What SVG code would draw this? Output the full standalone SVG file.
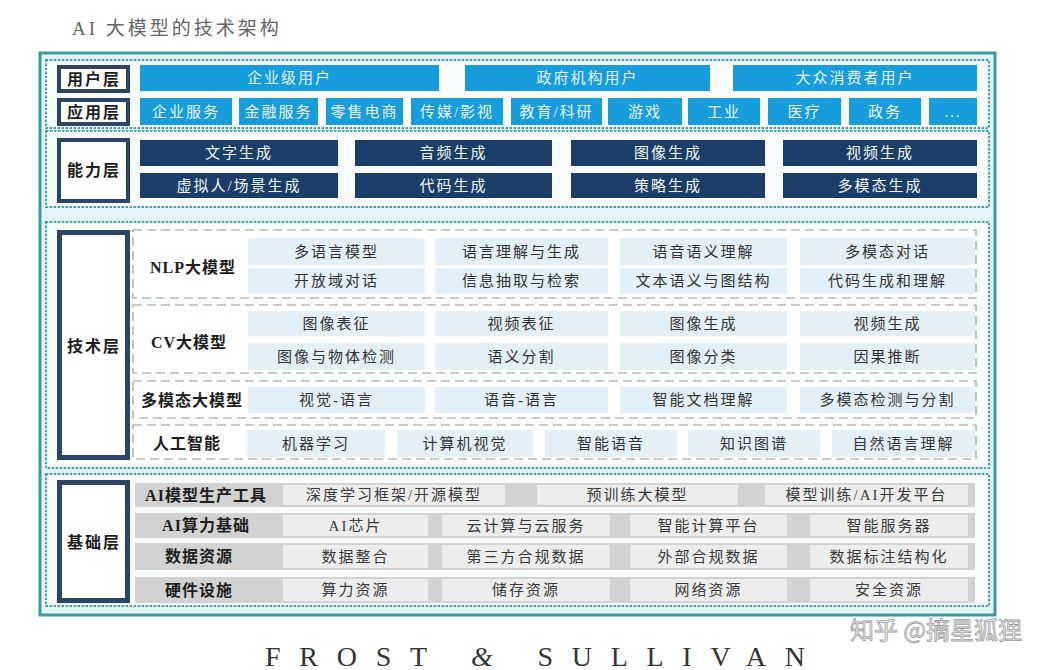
<svg xmlns="http://www.w3.org/2000/svg" width="1054" height="670" viewBox="0 0 1054 670">
<style>
text{font-family:"Liberation Serif","Noto Sans CJK SC",serif;text-anchor:middle;dominant-baseline:central}
.sec{fill:#f8fcfd;stroke:#45a2aa;stroke-width:2;stroke-dasharray:2.5 1.5}
.lab{fill:#ffffff;stroke:#2c4566;stroke-width:4}
.labT{font-size:16px;font-weight:bold;fill:#1e1e1e;letter-spacing:2px}
.blue{fill:#179ddc}
.blueT{font-size:15px;fill:#e9f5fc;letter-spacing:2px}
.navy{fill:#1b3e69}
.navyT{font-size:15px;fill:#f2f5f9;letter-spacing:2px}
.grp{fill:#ffffff;stroke:#9a9a9a;stroke-width:1.2;stroke-dasharray:9 5}
.cell{fill:#e4f0f7}
.cellT{font-size:15px;fill:#333333;letter-spacing:2px}
.subT{font-size:16px;font-weight:bold;fill:#1e1e1e;letter-spacing:1px}
.band{fill:#d2d2d2}
.gcell{fill:#ededed}
.gT{font-size:15px;fill:#3a3a3a;letter-spacing:2px}
</style>
<rect width="1054" height="670" fill="#ffffff"/>
<text x="72" y="28" style="text-anchor:start;font-size:19px;fill:#666666;letter-spacing:3px">AI 大模型的技术架构</text>
<rect x="40" y="53" width="955" height="562" fill="#e4f4f6" stroke="#3a9aa3" stroke-width="3"/>
<rect class="sec" x="46" y="60" width="943" height="68"/>
<rect class="sec" x="46" y="131" width="943" height="76"/>
<rect class="sec" x="46" y="222" width="943" height="246"/>
<rect class="sec" x="46" y="474" width="943" height="132"/>
<g id="connectors"/>
<g id="user-layer">
<rect class="lab" x="59" y="67" width="69" height="24"/><text class="labT" x="94" y="79">用户层</text>
<rect class="blue" x="140" y="65" width="299" height="26"/><text class="blueT" x="289.5" y="78">企业级用户</text>
<rect class="blue" x="465" y="65" width="245" height="26"/><text class="blueT" x="587.5" y="78">政府机构用户</text>
<rect class="blue" x="733" y="65" width="244" height="26"/><text class="blueT" x="855" y="78">大众消费者用户</text>
</g>
<g id="app-layer">
<rect class="lab" x="59" y="100" width="69" height="24"/><text class="labT" x="94" y="112">应用层</text>
<rect class="blue" x="140" y="98" width="92" height="27"/><text class="blueT" x="186" y="111.5">企业服务</text>
<rect class="blue" x="239" y="98" width="79" height="27"/><text class="blueT" x="278.5" y="111.5">金融服务</text>
<rect class="blue" x="326" y="98" width="77" height="27"/><text class="blueT" x="364.5" y="111.5">零售电商</text>
<rect class="blue" x="411" y="98" width="92" height="27"/><text class="blueT" x="457" y="111.5">传媒/影视</text>
<rect class="blue" x="511" y="98" width="91" height="27"/><text class="blueT" x="556.5" y="111.5">教育/科研</text>
<rect class="blue" x="608" y="98" width="74" height="27"/><text class="blueT" x="645" y="111.5">游戏</text>
<rect class="blue" x="688" y="98" width="72" height="27"/><text class="blueT" x="724" y="111.5">工业</text>
<rect class="blue" x="768" y="98" width="73" height="27"/><text class="blueT" x="804.5" y="111.5">医疗</text>
<rect class="blue" x="849" y="98" width="72" height="27"/><text class="blueT" x="885" y="111.5">政务</text>
<rect class="blue" x="929" y="98" width="48" height="27"/><text class="blueT" x="953" y="111.5">...</text>
</g>
<g id="capability-layer">
<rect class="lab" x="59" y="140" width="69" height="61"/><text class="labT" x="94" y="170.5">能力层</text>
<rect class="navy" x="140" y="140" width="198" height="26"/><text class="navyT" x="239" y="153">文字生成</text>
<rect class="navy" x="355" y="140" width="197" height="26"/><text class="navyT" x="453.5" y="153">音频生成</text>
<rect class="navy" x="571" y="140" width="194" height="26"/><text class="navyT" x="668" y="153">图像生成</text>
<rect class="navy" x="783" y="140" width="194" height="26"/><text class="navyT" x="880" y="153">视频生成</text>
<rect class="navy" x="140" y="173" width="198" height="25"/><text class="navyT" x="239" y="185.5">虚拟人/场景生成</text>
<rect class="navy" x="355" y="173" width="197" height="25"/><text class="navyT" x="453.5" y="185.5">代码生成</text>
<rect class="navy" x="571" y="173" width="194" height="25"/><text class="navyT" x="668" y="185.5">策略生成</text>
<rect class="navy" x="783" y="173" width="194" height="25"/><text class="navyT" x="880" y="185.5">多模态生成</text>
</g>
<g id="tech-layer">
<rect x="59.5" y="232.5" width="68" height="225" fill="#ffffff" stroke="#2c4566" stroke-width="5"/><text class="labT" x="94" y="346">技术层</text>
</g>
<g id="nlp">
<rect class="grp" x="133" y="230" width="843" height="68"/>
<text class="subT" x="193" y="267">NLP大模型</text>
<rect class="cell" x="248" y="238" width="177" height="27"/><text class="cellT" x="336.5" y="251.5">多语言模型</text>
<rect class="cell" x="435" y="238" width="173" height="27"/><text class="cellT" x="521.5" y="251.5">语言理解与生成</text>
<rect class="cell" x="620" y="238" width="167" height="27"/><text class="cellT" x="703.5" y="251.5">语音语义理解</text>
<rect class="cell" x="800" y="238" width="175" height="27"/><text class="cellT" x="887.5" y="251.5">多模态对话</text>
<rect class="cell" x="248" y="268" width="177" height="26"/><text class="cellT" x="336.5" y="281">开放域对话</text>
<rect class="cell" x="435" y="268" width="173" height="26"/><text class="cellT" x="521.5" y="281">信息抽取与检索</text>
<rect class="cell" x="620" y="268" width="167" height="26"/><text class="cellT" x="703.5" y="281">文本语义与图结构</text>
<rect class="cell" x="800" y="268" width="175" height="26"/><text class="cellT" x="887.5" y="281">代码生成和理解</text>
</g>
<g id="cv">
<rect class="grp" x="133" y="305" width="843" height="68"/>
<text class="subT" x="189" y="342">CV大模型</text>
<rect class="cell" x="248" y="311" width="177" height="25"/><text class="cellT" x="336.5" y="323.5">图像表征</text>
<rect class="cell" x="435" y="311" width="173" height="25"/><text class="cellT" x="521.5" y="323.5">视频表征</text>
<rect class="cell" x="620" y="311" width="167" height="25"/><text class="cellT" x="703.5" y="323.5">图像生成</text>
<rect class="cell" x="800" y="311" width="175" height="25"/><text class="cellT" x="887.5" y="323.5">视频生成</text>
<rect class="cell" x="248" y="343" width="177" height="27"/><text class="cellT" x="336.5" y="356.5">图像与物体检测</text>
<rect class="cell" x="435" y="343" width="173" height="27"/><text class="cellT" x="521.5" y="356.5">语义分割</text>
<rect class="cell" x="620" y="343" width="167" height="27"/><text class="cellT" x="703.5" y="356.5">图像分类</text>
<rect class="cell" x="800" y="343" width="175" height="27"/><text class="cellT" x="887.5" y="356.5">因果推断</text>
</g>
<g id="multimodal">
<rect class="grp" x="133" y="381" width="843" height="37"/>
<text class="subT" x="192" y="400">多模态大模型</text>
<rect class="cell" x="248" y="387" width="177" height="26"/><text class="cellT" x="336.5" y="400">视觉-语言</text>
<rect class="cell" x="435" y="387" width="173" height="26"/><text class="cellT" x="521.5" y="400">语音-语言</text>
<rect class="cell" x="620" y="387" width="167" height="26"/><text class="cellT" x="703.5" y="400">智能文档理解</text>
<rect class="cell" x="800" y="387" width="175" height="26"/><text class="cellT" x="887.5" y="400">多模态检测与分割</text>
</g>
<g id="ai">
<rect class="grp" x="133" y="425" width="843" height="34"/>
<text class="subT" x="187" y="443">人工智能</text>
<rect class="cell" x="247" y="430" width="138" height="27"/><text class="cellT" x="316" y="443.5">机器学习</text>
<rect class="cell" x="397" y="430" width="136" height="27"/><text class="cellT" x="465" y="443.5">计算机视觉</text>
<rect class="cell" x="545" y="430" width="132" height="27"/><text class="cellT" x="611" y="443.5">智能语音</text>
<rect class="cell" x="688" y="430" width="132" height="27"/><text class="cellT" x="754" y="443.5">知识图谱</text>
<rect class="cell" x="832" y="430" width="143" height="27"/><text class="cellT" x="903.5" y="443.5">自然语言理解</text>
</g>
<g id="base-layer">
<rect x="59.5" y="482.5" width="68" height="118" fill="#ffffff" stroke="#2c4566" stroke-width="5"/><text class="labT" x="94" y="542">基础层</text>
</g>
<g id="ai-tools">
<rect class="band" x="135" y="483" width="840" height="24"/>
<text class="subT" x="206" y="495">AI模型生产工具</text>
<rect class="gcell" x="283" y="485" width="222" height="20"/><text class="gT" x="394" y="495">深度学习框架/开源模型</text>
<rect class="gcell" x="537" y="485" width="201" height="20"/><text class="gT" x="637.5" y="495">预训练大模型</text>
<rect class="gcell" x="765" y="485" width="203" height="20"/><text class="gT" x="866.5" y="495">模型训练/AI开发平台</text>
</g>
<g id="ai-compute">
<rect class="band" x="135" y="513" width="840" height="25"/>
<text class="subT" x="206" y="525.5">AI算力基础</text>
<rect class="gcell" x="283" y="515" width="145" height="21"/><text class="gT" x="355.5" y="525.5">AI芯片</text>
<rect class="gcell" x="442" y="515" width="168" height="21"/><text class="gT" x="526" y="525.5">云计算与云服务</text>
<rect class="gcell" x="630" y="515" width="157" height="21"/><text class="gT" x="708.5" y="525.5">智能计算平台</text>
<rect class="gcell" x="810" y="515" width="158" height="21"/><text class="gT" x="889" y="525.5">智能服务器</text>
</g>
<g id="data">
<rect class="band" x="135" y="543" width="840" height="27"/>
<text class="subT" x="199" y="556.5">数据资源</text>
<rect class="gcell" x="283" y="545" width="145" height="23"/><text class="gT" x="355.5" y="556.5">数据整合</text>
<rect class="gcell" x="442" y="545" width="168" height="23"/><text class="gT" x="526" y="556.5">第三方合规数据</text>
<rect class="gcell" x="630" y="545" width="157" height="23"/><text class="gT" x="708.5" y="556.5">外部合规数据</text>
<rect class="gcell" x="810" y="545" width="158" height="23"/><text class="gT" x="889" y="556.5">数据标注结构化</text>
</g>
<g id="hardware">
<rect class="band" x="135" y="577" width="840" height="26"/>
<text class="subT" x="199" y="590">硬件设施</text>
<rect class="gcell" x="283" y="579" width="145" height="22"/><text class="gT" x="355.5" y="590">算力资源</text>
<rect class="gcell" x="442" y="579" width="168" height="22"/><text class="gT" x="526" y="590">储存资源</text>
<rect class="gcell" x="630" y="579" width="157" height="22"/><text class="gT" x="708.5" y="590">网络资源</text>
<rect class="gcell" x="810" y="579" width="158" height="22"/><text class="gT" x="889" y="590">安全资源</text>
</g>
<text x="936" y="628" style="font-family:'Noto Sans CJK SC',sans-serif;font-size:24px;fill:#f4f4f4;stroke:#9d9d9d;stroke-width:0.8">知乎 @摘星狐狸</text>
<text x="265" y="656" textLength="540" lengthAdjust="spacing" style="text-anchor:start;font-size:28px;fill:#333333">FROST <tspan font-style="italic">&amp;</tspan> SULLIVAN</text>
</svg>
